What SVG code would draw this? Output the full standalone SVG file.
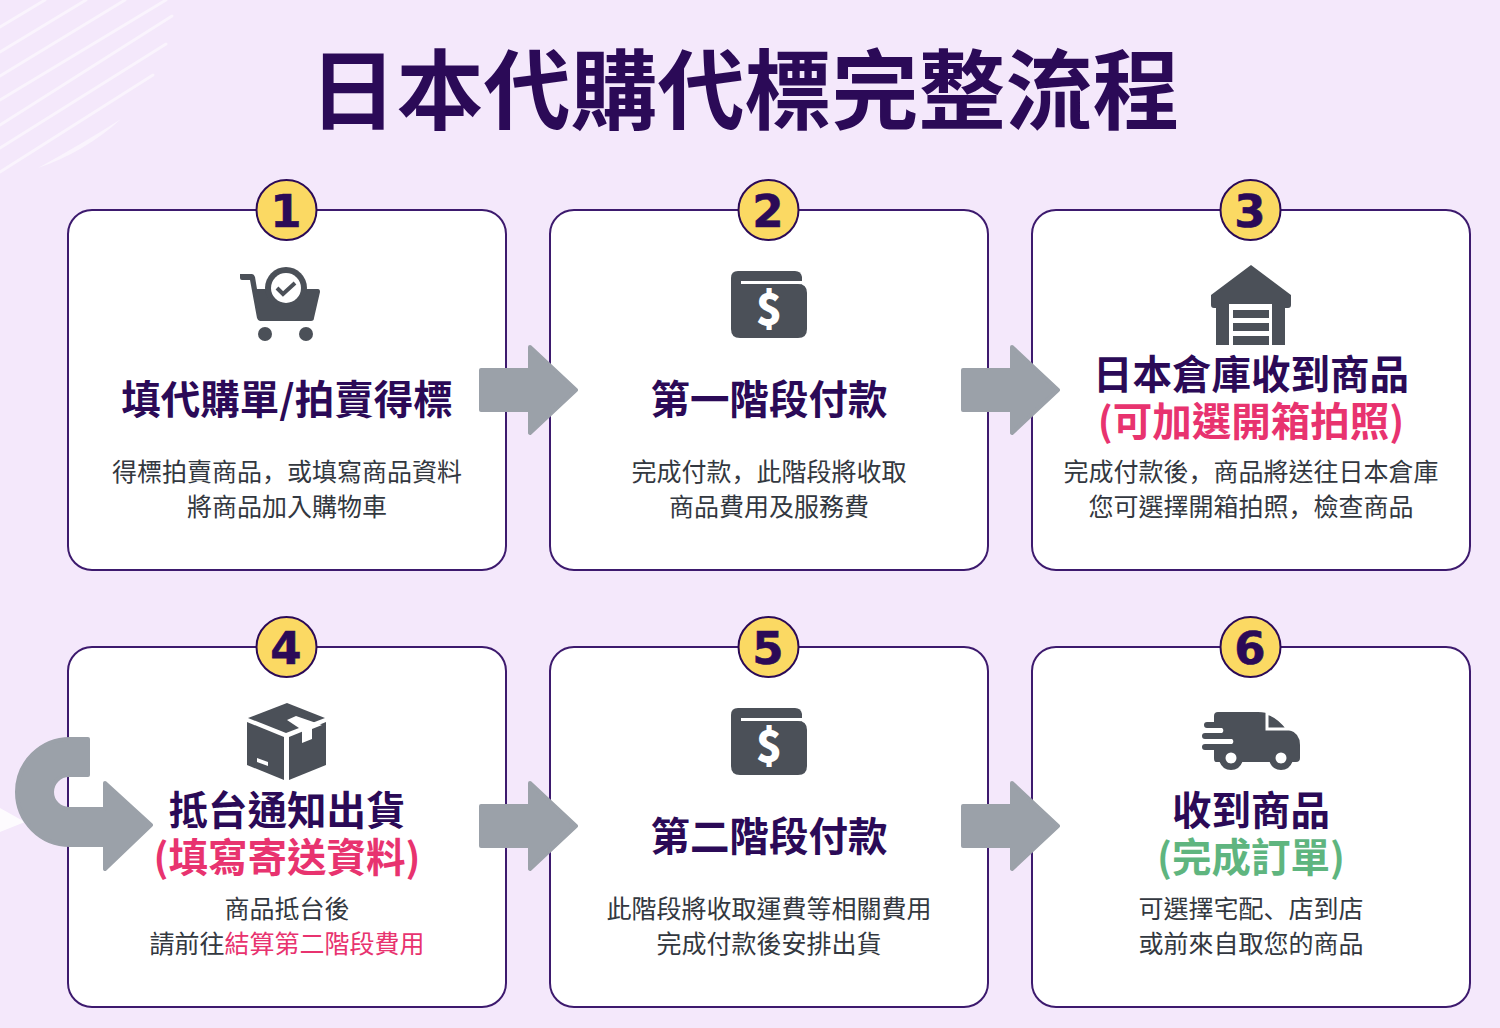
<svg xmlns="http://www.w3.org/2000/svg" width="1500" height="1028" viewBox="0 0 1500 1028">
<style>
text{font-family:"Noto Sans CJK TC","Noto Sans CJK JP",sans-serif;text-anchor:middle}
.title{font-size:87px;font-weight:700;fill:#2b0a57}
.h{font-size:39.5px;font-weight:700;fill:#2b0a57}
.pink{fill:#e8336f}
.green{fill:#5fb57f}
.b{font-size:25px;font-weight:400;fill:#333840}
.p{font-family:"Noto Sans CJK JP",sans-serif}
.n{font-family:"DejaVu Sans",sans-serif;font-size:45px;font-weight:700;fill:#2b0a57;stroke:#2b0a57;stroke-width:.6}
.usd{font-size:43px;font-weight:900;fill:#fff}
.card{fill:#fff;stroke:#3d1a6e;stroke-width:2}
.badge{fill:#fbd963;stroke:#2b0a57;stroke-width:2}
.arrow{fill:#9ba1a9;stroke:#9ba1a9;stroke-width:4;stroke-linejoin:round}
.ic{fill:#4b5058}
.glint{stroke:#fff;stroke-opacity:.5;stroke-width:3;fill:none;stroke-linecap:round}
</style>
<defs>
<path id="a" class="arrow" d="M481 370H530V347L576 390L530 433V410H481Z"/>
<g id="wallet">
<path class="ic" d="M738 271H795Q801 271 802 277V290H731V278Q731 271 738 271Z"/>
<rect x="741" y="281" width="66" height="3.500" fill="#fff"/>
<path class="ic" d="M731 284H798Q807 284 807 293V329Q807 338 798 338H740Q731 338 731 329Z"/>
<text class="usd" x="769" y="325">$</text>
</g>
</defs>
<rect width="1500" height="1028" fill="#f4e8fb"/>
<g id="background">
<path class="glint" d="M0 27L45 0M0 52L86 0M0 76L125 0M0 100L166 0M0 125L172 16M0 148L166 44M0 172L153 75"/>
<path d="M38 168Q85 152 121 119Q85 142 38 168Z" fill="#fff" fill-opacity=".5"/>
<path d="M0 808L25 822L0 832Z" fill="#fff" fill-opacity=".8"/>
</g>
<text class="title" x="744.500" y="123">日本代購代標完整流程</text>

<g id="node1">
<rect class="card" x="68" y="210" width="438" height="360" rx="24"/>
<circle class="badge" cx="286.500" cy="210" r="30"/><text class="n" x="286" y="227">1</text>
<g id="icon1">
<path class="ic" d="M240 274H252Q254 274 255 277L257 289H268Q270 276 285 268Q302 276 304 289H318Q320 289 320 292L314 318Q314 321 311 321H260Q258 321 257 318L250 280H242Q240 280 240 278Z"/>
<circle class="ic" cx="286" cy="288" r="21"/>
<circle cx="286" cy="288" r="15" fill="#fff"/>
<path d="M277 288L283 294L295 283" fill="none" stroke="#4b5058" stroke-width="4"/>
<circle class="ic" cx="265" cy="334" r="7"/><circle class="ic" cx="306" cy="334" r="7"/>
</g>
<text class="h" x="287" y="414">填代購單/拍賣得標</text>
<text class="b" x="287" y="481">得標拍賣商品<tspan class="p">，</tspan>或填寫商品資料</text>
<text class="b" x="287" y="515.500">將商品加入購物車</text>
</g>

<g id="node2">
<rect class="card" x="550" y="210" width="438" height="360" rx="24"/>
<circle class="badge" cx="768.500" cy="210" r="30"/><text class="n" x="768" y="227">2</text>
<use href="#wallet"/>
<text class="h" x="769" y="414">第一階段付款</text>
<text class="b" x="769" y="481">完成付款<tspan class="p">，</tspan>此階段將收取</text>
<text class="b" x="769" y="515.500">商品費用及服務費</text>
</g>

<g id="node3">
<rect class="card" x="1032" y="210" width="438" height="360" rx="24"/>
<circle class="badge" cx="1250.500" cy="210" r="30"/><text class="n" x="1250" y="227">3</text>
<g id="icon3">
<path class="ic" d="M1251 265L1291 295V305Q1291 308 1288 308H1285V345H1272V304H1229V345H1216V308H1214Q1211 308 1211 305V295Z"/>
<rect class="ic" x="1233" y="310" width="36" height="8"/>
<rect class="ic" x="1233" y="323" width="36" height="8"/>
<rect class="ic" x="1233" y="336" width="36" height="9"/>
</g>
<text class="h" x="1251" y="389">日本倉庫收到商品</text>
<text class="h pink" x="1251" y="436">(可加選開箱拍照)</text>
<text class="b" x="1251" y="481">完成付款後<tspan class="p">，</tspan>商品將送往日本倉庫</text>
<text class="b" x="1251" y="515.500">您可選擇開箱拍照<tspan class="p">，</tspan>檢查商品</text>
</g>

<g id="node4">
<rect class="card" x="68" y="647" width="438" height="360" rx="24"/>
<circle class="badge" cx="286.500" cy="647" r="30"/><text class="n" x="286" y="664">4</text>
<g id="icon4">
<path class="ic" d="M287 703L325 718L286 733L248 718Z"/>
<path class="ic" d="M247 722L284 737V780L247 765Z"/>
<path class="ic" d="M289 737L326 722V765L289 780Z"/>
<path d="M287 720L296 716L322 725L312 729V739L302 743V730Z" fill="#fff"/>
<path d="M257 758L268 762V766L257 762Z" fill="#fff"/>
</g>
<text class="h" x="287" y="825">抵台通知出貨</text>
<text class="h pink" x="287" y="872">(填寫寄送資料)</text>
<text class="b" x="287" y="918">商品抵台後</text>
<text class="b" x="287" y="952.500">請前往<tspan class="pink">結算第二階段費用</tspan></text>
</g>

<g id="node5">
<rect class="card" x="550" y="647" width="438" height="360" rx="24"/>
<circle class="badge" cx="768.500" cy="647" r="30"/><text class="n" x="768" y="664">5</text>
<use href="#wallet" y="437"/>
<text class="h" x="769" y="851">第二階段付款</text>
<text class="b" x="769" y="918">此階段將收取運費等相關費用</text>
<text class="b" x="769" y="952.500">完成付款後安排出貨</text>
</g>

<g id="node6">
<rect class="card" x="1032" y="647" width="438" height="360" rx="24"/>
<circle class="badge" cx="1250.500" cy="647" r="30"/><text class="n" x="1250" y="664">6</text>
<g id="icon6">
<path class="ic" d="M1214 716Q1214 712 1218 712H1258Q1270 712 1278 720L1289 730Q1300 733 1300 745V758Q1300 762 1296 762H1292.300A12 12 0 0 1 1269.700 762H1242.300A12 12 0 0 1 1219.700 762H1216Q1214 762 1214 758V750H1205A3 3 0 0 1 1205 744H1232A3 3 0 0 0 1232 739H1205A3 3 0 0 1 1205 733H1222A3 3 0 0 0 1222 728H1207A3 3 0 0 1 1207 722H1214Z"/>
<path d="M1267 713V729H1288Q1278 716 1267 713Z" fill="none" stroke="#fff" stroke-width="3"/>
<circle cx="1231" cy="758" r="5.500" fill="#fff"/><circle cx="1281" cy="758" r="5.500" fill="#fff"/>
</g>
<text class="h" x="1251" y="825">收到商品</text>
<text class="h green" x="1251" y="872">(完成訂單)</text>
<text class="b" x="1251" y="918">可選擇宅配<tspan class="p">、</tspan>店到店</text>
<text class="b" x="1251" y="952.500">或前來自取您的商品</text>
</g>

<g id="connectors">
<use href="#a"/>
<use href="#a" x="482"/>
<use href="#a" y="436"/>
<use href="#a" x="482" y="436"/>
<path class="arrow" d="M88 739V775H69A17 17 0 0 0 69 809H105V783L151 825L105 869V845H70A53 53 0 0 1 70 739Z"/>
</g>
</svg>
